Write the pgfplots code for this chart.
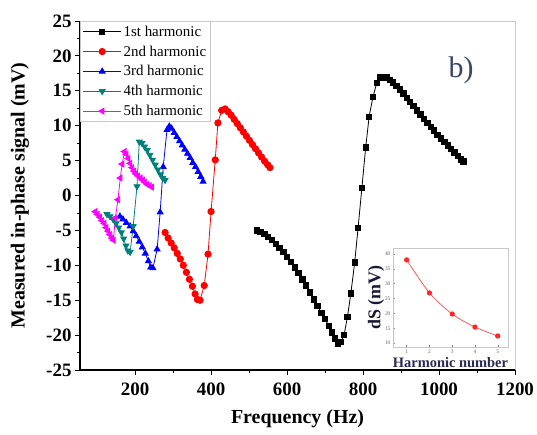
\documentclass[border=0pt]{standalone}
\usepackage{fontspec}
\setmainfont{Liberation Serif}
\usepackage{pgfplots}
\pgfplotsset{compat=1.18}
\definecolor{tealc}{RGB}{0,128,118}
\definecolor{magc}{RGB}{255,0,255}
\definecolor{bcol}{RGB}{55,70,105}
\definecolor{navy}{RGB}{40,40,85}
\definecolor{framegray}{RGB}{200,200,200}
\definecolor{insetred}{RGB}{255,90,90}
\begin{document}
\begin{tikzpicture}
\useasboundingbox (-80bp,-65bp) rectangle (457bp,370bp);
\begin{axis}[
  name=main,
  at={(0,0)}, anchor=south west,
  scale only axis,
  width=435bp, height=349bp,
  xmin=55, xmax=1200, ymin=-25, ymax=25,
  xtick={200,400,...,1200}, ytick={-25,-20,...,25},
  minor x tick num=1, minor y tick num=1,
  axis x line*=bottom, axis y line*=left,
  axis line style={-, line width=1.1bp, black},
  tick align=outside,
  major tick length=5bp, minor tick length=3bp,
  tick style={line width=0.9bp, black},
  /pgf/number format/1000 sep={},
  xticklabel={\pgfmathprintnumber[assume math mode=true]{\tick}},
  yticklabel={\pgfmathprintnumber[assume math mode=true]{\tick}},
  ticklabel style={font=\bfseries\fontsize{19}{19}\selectfont},
  xticklabel style={yshift=-4bp},
  xlabel={Frequency (Hz)},
  ylabel={Measured in-phase signal (mV)},
  xlabel style={font=\bfseries\fontsize{20}{22}\selectfont, at={(axis description cs:0.5,0)}, anchor=center, yshift=-49bp},
  ylabel style={font=\bfseries\fontsize{20}{22}\selectfont, at={(axis description cs:0,0.5)}, anchor=center, yshift=60bp},
  legend style={at={(0,1)}, anchor=north west, draw=framegray, line width=0.6bp, font=\fontsize{15}{15}\selectfont, inner sep=2.5bp, row sep=4bp, cells={anchor=west}},
  legend image code/.code={\draw[mark repeat=2,mark phase=2] plot coordinates {(0bp,0bp) (19bp,0bp) (38bp,0bp)};},
  clip=false,
]
\addplot[black, line width=0.8bp, mark=square*, mark size=2.7bp] coordinates {
(520,-5.0)(530,-5.2)(540,-5.5)(550,-5.9)(560,-6.4)(570,-6.9)(580,-7.5)(590,-8.1)(600,-8.8)(610,-9.5)(620,-10.3)(630,-11.1)(640,-12.0)(650,-12.9)(660,-13.9)(670,-14.9)(680,-15.8)(690,-16.8)(700,-17.7)(710,-18.7)(718,-19.6)(726,-20.5)(734,-21.2)(742,-21.0)(750,-20.0)(759,-17.4)(768,-14.0)(778,-9.6)(787,-4.6)(797,1.1)(807,6.9)(816,11.3)(826,14.1)(836,16.1)(845,16.9)(853,17.0)(861,16.9)(870,16.6)(879,16.2)(888,15.7)(897,15.2)(906,14.6)(915,14.0)(924,13.4)(933,12.8)(942,12.2)(951,11.6)(960,11.0)(969,10.4)(978,9.8)(987,9.3)(996,8.7)(1005,8.2)(1014,7.7)(1023,7.2)(1032,6.7)(1041,6.2)(1050,5.7)(1058,5.2)(1064,4.9)
};
\addlegendentry{1st harmonic}
\addplot[red, line width=0.8bp, mark=*, mark size=3.2bp] coordinates {
(279,-5.3)(287,-6.1)(295,-6.8)(303,-7.5)(311,-8.3)(319,-9.1)(327,-10.0)(335,-11.0)(343,-12.0)(351,-13.0)(358,-14.1)(364,-14.9)(371,-15.0)(382,-12.9)(392,-8.4)(400,-2.3)(411,5.1)(418,10.4)(428,12.2)(437,12.4)(445,12.0)(453,11.5)(461,10.9)(469,10.3)(477,9.7)(485,9.1)(493,8.5)(501,7.9)(509,7.3)(517,6.7)(525,6.1)(533,5.5)(541,4.9)(549,4.4)(555,4.0)
};
\addlegendentry{2nd harmonic}
\addplot[blue, line width=0.8bp, mark=triangle*, mark size=3.4bp] coordinates {
(160,-3.0)(168,-3.4)(177,-3.9)(187,-4.4)(195,-5.1)(203,-5.8)(211,-6.6)(219,-7.4)(227,-8.3)(235,-9.4)(241,-10.3)(247,-10.4)(258,-7.7)(266,-2.4)(274,4.1)(284,9.4)(290,9.9)(296,9.6)(303,9.0)(310,8.4)(317,7.8)(324,7.2)(331,6.6)(338,6.0)(345,5.4)(352,4.7)(359,4.1)(366,3.4)(373,2.7)(379,2.0)
};
\addlegendentry{3rd harmonic}
\addplot[tealc, line width=0.8bp, mark=triangle*, mark size=3.4bp, mark options={rotate=180}] coordinates {
(126,-2.7)(134,-3.0)(142,-3.4)(150,-4.0)(157,-4.6)(164,-5.3)(170,-6.2)(176,-7.2)(181,-7.9)(187,-8.1)(195,-4.4)(205,1.3)(211,7.7)(218,7.5)(225,7.0)(232,6.5)(239,5.8)(246,5.1)(253,4.4)(260,3.7)(267,3.0)(273,2.5)(279,2.2)
};
\addlegendentry{4th harmonic}
\addplot[magc, line width=0.8bp, mark=triangle*, mark size=3.4bp, mark options={rotate=90}] coordinates {
(95,-2.3)(101,-2.7)(107,-3.1)(113,-3.6)(119,-4.0)(124,-4.6)(129,-5.1)(134,-5.6)(139,-6.1)(143,-6.4)(148,-3.2)(155,-0.6)(161,2.5)(166,4.5)(172,6.3)(177,5.9)(182,5.3)(187,4.6)(192,4.0)(197,3.5)(202,3.1)(208,2.8)(214,2.5)(220,2.2)(226,1.9)(232,1.6)(238,1.4)(244,1.2)
};
\addlegendentry{5th harmonic}
\node[font=\fontsize{30}{30}\selectfont, text=bcol] at (axis cs:1058,18) {b)};
\end{axis}
\draw[framegray, line width=0.9bp] (main.north west) -- (main.north east) -- (main.south east);
\begin{axis}[
  at={(313bp,23bp)}, anchor=south west,
  scale only axis,
  width=115bp, height=99bp,
  xmin=0.4, xmax=5.45, ymin=8.7, ymax=42,
  xtick={1,2,3,4,5}, ytick={10,15,...,40},
  axis line style={framegray, line width=0.7bp},
  tick align=inside,
  major tick length=2bp,
  tick style={gray, line width=0.5bp},
  xtick pos=bottom, ytick pos=left,
  xticklabel={\pgfmathprintnumber[assume math mode=true]{\tick}},
  yticklabel={\pgfmathprintnumber[assume math mode=true]{\tick}},
  ticklabel style={font=\fontsize{5.5}{5.5}\selectfont, text=gray!80!black},
  xticklabel style={yshift=1bp},
  yticklabel style={xshift=1bp},
  xlabel={Harmonic number},
  ylabel={dS (mV)},
  xlabel style={font=\bfseries\fontsize{14.5}{14.5}\selectfont, text=navy, at={(axis description cs:0.5,0)}, anchor=center, yshift=-16bp},
  ylabel style={font=\bfseries\fontsize{18}{18}\selectfont, text=navy!60!black, at={(axis description cs:0,0.5)}, anchor=center, yshift=17bp},
  clip=false,
]
\addplot[insetred, line width=0.8bp, smooth, mark=*, mark size=2.2bp, mark options={fill=red!85!white, draw=red!85!white}] coordinates {
(1,38.0)(2,26.9)(3,19.8)(4,15.4)(5,12.4)
};
\end{axis}
\end{tikzpicture}
\end{document}
